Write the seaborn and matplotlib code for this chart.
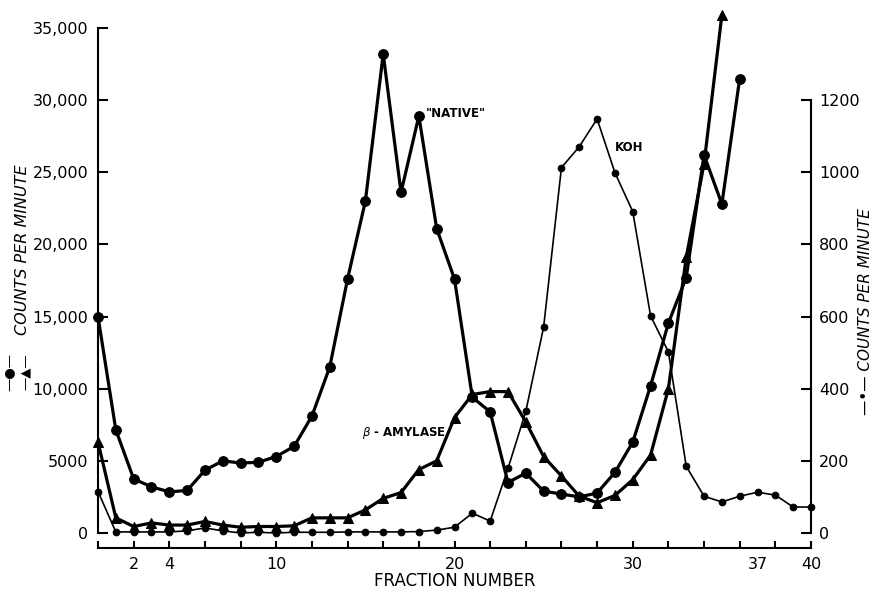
import matplotlib
matplotlib.use("Agg")
import matplotlib.pyplot as plt
import seaborn as sns

# ------------------------
# data
# ------------------------
native_frac = list(range(0, 37))
native_cpm = [15000, 7150, 3750, 3200, 2850, 2950, 4350, 5000, 4850, 4900,
              5300, 6000, 8100, 11500, 17600, 23000, 33200, 23600, 28900, 21100,
              17600, 9400, 8400, 3500, 4150, 2900, 2700, 2500, 2770, 4200,
              6300, 10200, 14550, 17700, 26200, 22800, 31500]

amylase_frac = list(range(0, 36))
amylase_cpm = [6300, 1050, 450, 700, 550, 550, 800, 550, 400, 450,
               450, 500, 1050, 1050, 1050, 1600, 2400, 2800, 4400, 5000,
               8000, 9600, 9800, 9800, 7700, 5300, 3950, 2550, 2100, 2600,
               3700, 5400, 10000, 19100, 25600, 35900]

koh_frac = list(range(0, 41))
koh_cpm = [115, 3, 3, 3, 3, 6, 14, 6, 0, 2,
           0, 2, 2, 2, 3, 3, 3, 3, 4, 8,
           16, 55, 33, 179, 337, 571, 1013, 1071, 1148, 999,
           891, 602, 502, 185, 102, 86, 102, 113, 105, 72,
           72]

left_ticks = [0, 5000, 10000, 15000, 20000, 25000, 30000, 35000]
left_labels = ["0", "5000", "10,000", "15,000", "20,000", "25,000", "30,000", "35,000"]
right_ticks = [0, 200, 400, 600, 800, 1000, 1200]
x_ticks = list(range(0, 41, 2))
x_labeled = [2, 4, 10, 20, 30, 40]

# ------------------------
# figure
# ------------------------
sns.set_style("white")
plt.rcParams["font.family"] = ["DejaVu Sans"]
plt.rcParams["text.color"] = "black"
plt.rcParams["axes.labelcolor"] = "black"
plt.rcParams["xtick.color"] = "black"
plt.rcParams["ytick.color"] = "black"

fig = plt.figure(figsize=(8.77, 5.93), dpi=100)
ax = fig.add_axes([98 / 877, 60 / 593, 713 / 877, 505 / 593])
ax2 = ax.twinx()

sns.lineplot(x=native_frac, y=native_cpm, ax=ax, color="black", linewidth=2.3,
             marker="o", markersize=7, markeredgecolor="black", clip_on=False, sort=False)
sns.lineplot(x=amylase_frac, y=amylase_cpm, ax=ax, color="black", linewidth=2.3,
             marker="^", markersize=7.5, markeredgecolor="black", clip_on=False, sort=False)
sns.lineplot(x=koh_frac, y=koh_cpm, ax=ax2, color="black", linewidth=1.2,
             marker="o", markersize=4.8, markeredgecolor="black", clip_on=False, sort=False)

ax.set_xlim(0, 40)
ax.set_ylim(0, 35000)
ax2.set_ylim(0, 35000 / 25)

for a in (ax, ax2):
    for s in a.spines.values():
        s.set_visible(False)
        s.set_linewidth(1.5)
        s.set_color("black")

ax.spines["left"].set_visible(True)
ax.spines["left"].set_bounds(0, 35000)
ax.spines["bottom"].set_visible(True)
ax.spines["bottom"].set_position(("outward", 11))
ax2.spines["right"].set_visible(True)
ax2.spines["right"].set_bounds(0, 1200)

ax.set_yticks(left_ticks, left_labels)
ax.tick_params(axis="y", direction="in", length=7, width=1.5, pad=7,
               labelsize=11.5, left=True, right=False)
ax2.set_yticks(right_ticks, [str(t) for t in right_ticks])
ax2.tick_params(axis="y", direction="in", length=7, width=1.5, pad=6,
                labelsize=11.5, right=True, left=False)

ax.set_xticks(x_ticks, [str(t) if t in x_labeled else "" for t in x_ticks])
ax.set_xticks([37], ["37"], minor=True)
ax.tick_params(axis="x", which="major", direction="in", length=5, width=1.5,
               pad=6, labelsize=11.5, bottom=True)
ax.tick_params(axis="x", which="minor", length=0, pad=6, labelsize=11.5, bottom=True)
ax.set_xlabel("FRACTION NUMBER", fontsize=12, labelpad=0)
ax.set_ylabel("")
ax2.set_ylabel("")
ax.grid(False)
ax2.grid(False)

# annotations
ax.text(18.4, 29100, '"NATIVE"', fontsize=8.5, fontweight="bold", va="center", ha="left")
ax.text(29.0, 26700, "KOH", fontsize=8.5, fontweight="bold", va="center", ha="left")
ax.text(14.8, 6900, r"$\beta$ - AMYLASE", fontsize=8.5, fontweight="bold",
        va="center", ha="left")

# axis titles with series keys
fig.text(23 / 877, 1 - 250 / 593, "COUNTS PER MINUTE", rotation=90, style="italic",
         fontsize=11.5, ha="center", va="center")
fig.text(9 / 877, 1 - 372 / 593, "\u2014\u25cf\u2014", rotation=90, fontsize=9.5,
         ha="center", va="center")
fig.text(25 / 877, 1 - 372 / 593, "\u2014\u25b2\u2014", rotation=90, fontsize=9.5,
         ha="center", va="center")
fig.text(866 / 877, 1 - 312 / 593, "\u2014\u2022\u2014 COUNTS PER MINUTE", rotation=90,
         style="italic", fontsize=11, ha="center", va="center")

fig.savefig("out.png", dpi=100)
